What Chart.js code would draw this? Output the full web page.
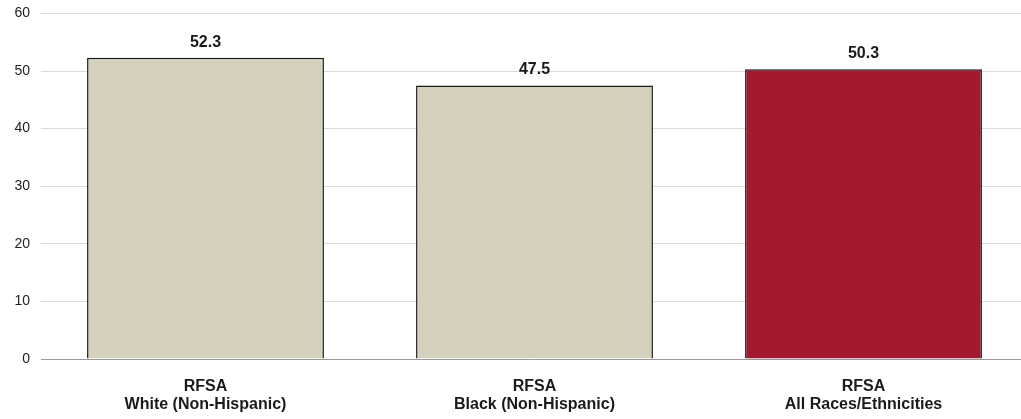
<!DOCTYPE html>
<html>
<head>
<meta charset="utf-8">
<script src="https://cdn.jsdelivr.net/npm/chart.js@4.4.1/dist/chart.umd.min.js"></script>
<style>
  html, body { margin: 0; padding: 0; background: #fff; overflow: hidden; }
  #wrap { width: 1028px; height: 425px; margin-top: -6px; }
</style>
</head>
<body>
<div id="wrap"><canvas id="bar-chart"></canvas></div>
<script>
const categories = [
  ['RFSA', 'White (Non-Hispanic)'],
  ['RFSA', 'Black (Non-Hispanic)'],
  ['RFSA', 'All Races/Ethnicities']
];
const values = [52.3, 47.5, 50.3];
const yTicks = [0, 10, 20, 30, 40, 50, 60];

const BAR_COLORS = ['#d6d1be', '#d6d1be', '#a3192f'];
const FONT = "'Liberation Sans', Arial, sans-serif";

// draws the value above each bar
const valueLabels = {
  id: 'valueLabels',
  afterDatasetsDraw(chart) {
    const ctx = chart.ctx;
    const meta = chart.getDatasetMeta(0);
    ctx.save();
    ctx.font = 'bold 16px ' + FONT;
    ctx.fillStyle = '#1a1a1a';
    ctx.textAlign = 'center';
    ctx.textBaseline = 'alphabetic';
    meta.data.forEach((bar, i) => {
      ctx.fillText(values[i].toFixed(1), bar.x, bar.y - 11);
    });
    ctx.restore();
  }
};

new Chart(document.getElementById('bar-chart'), {
  type: 'bar',
  data: {
    labels: categories,
    datasets: [{
      data: values,
      backgroundColor: BAR_COLORS,
      borderColor: '#1a1a1a',
      borderWidth: 1.5,
      barPercentage: 0.72,
      categoryPercentage: 1
    }]
  },
  options: {
    responsive: true,
    maintainAspectRatio: false,
    animation: false,
    layout: { padding: { top: 6, right: 0, left: 0, bottom: 0 } },
    plugins: {
      legend: { display: false },
      tooltip: { enabled: false }
    },
    scales: {
      x: {
        grid: { display: false, drawTicks: false },
        border: { display: false },
        ticks: {
          color: '#1a1a1a',
          font: { family: FONT, size: 16, weight: 'bold', lineHeight: 1.15 },
          padding: 18
        },
        afterFit(scale) { scale.height = 60; }
      },
      y: {
        min: 0,
        max: 60,
        afterBuildTicks(scale) { scale.ticks = yTicks.map(v => ({ value: v })); },
        grid: {
          drawTicks: false,
          color: (c) => c.tick && c.tick.value === 0 ? '#9a9a9a' : '#dcdcdc',
          lineWidth: 1
        },
        border: { display: false },
        ticks: {
          color: '#222',
          font: { family: FONT, size: 14 },
          padding: 11
        },
        afterFit(scale) { scale.width = 41; }
      }
    }
  },
  plugins: [valueLabels]
});
</script>
</body>
</html>
